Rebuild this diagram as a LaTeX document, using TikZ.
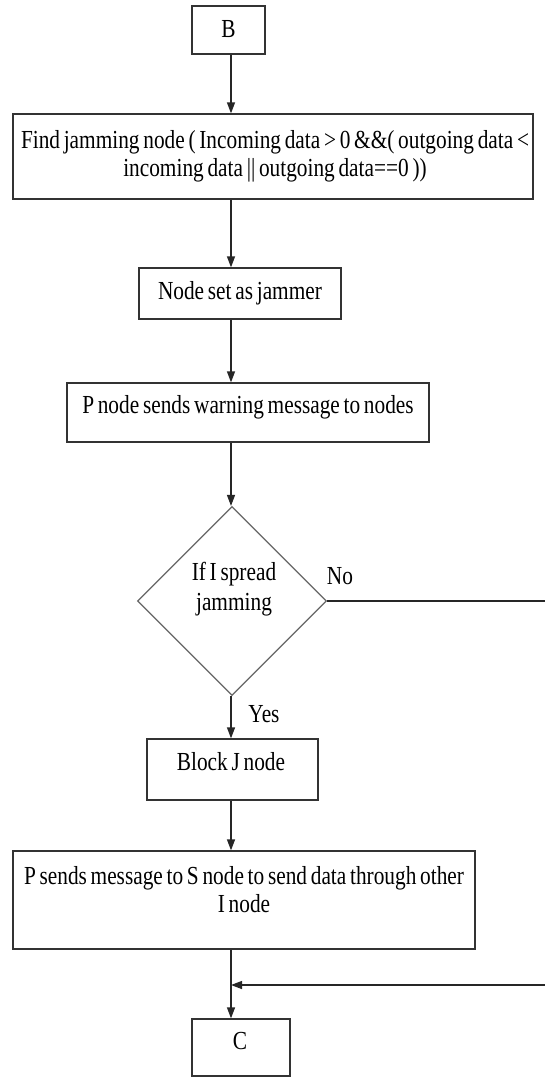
\documentclass[tikz,border=0pt]{standalone}
\usepackage{fontspec}
\setmainfont{Liberation Serif}[FakeStretch=0.82,WordSpace=0.7]
\usetikzlibrary{arrows.meta,shapes.geometric}

\begin{document}
\begin{tikzpicture}[x=1pt,y=-1pt,
  box/.style={draw=black!80, line width=1.3pt, inner sep=0pt},
  txt/.style={inner sep=0pt, anchor=base, align=center,
              font=\fontsize{26}{28}\selectfont, text=black},
  arr/.style={line width=1.3pt, draw=black!85,
              -{Triangle[length=11pt,width=8pt]}}]
\useasboundingbox (0,0) rectangle (544,1077);
\fill[white] (0,0) rectangle (544,1077);

% vertical trunk of the flow
\coordinate (tr) at (231,0);

% process boxes
\node[box, minimum width=73pt,  minimum height=48pt] (B)     at (228.5,30)    {};
\node[box, minimum width=520pt, minimum height=85pt] (find)  at (273,156.5)   {};
\node[box, minimum width=202pt, minimum height=51pt] (nset)  at (240,293.5)   {};
\node[box, minimum width=362pt, minimum height=59pt] (pwarn) at (248,412.5)   {};
\node[diamond, draw=black!60, line width=1.2pt, inner sep=0pt, aspect=1,
      minimum width=189pt, minimum height=189pt]     (dec)   at (232,601)     {};
\node[box, minimum width=171pt, minimum height=61pt] (blk)   at (232.5,769.5) {};
\node[box, minimum width=462pt, minimum height=98pt] (psend) at (244,900)     {};
\node[box, minimum width=98pt,  minimum height=57pt] (C)     at (241,1047.5)  {};

% texts (multi-line nodes are placed by the baseline of their last line)
\node[txt] (tB)     at (228.5,37) {B};
\node[txt] (tfind)  at (275,176)  {Find jamming node ( Incoming data > 0 \&\&( outgoing data <\\
                                   incoming data || outgoing data==0 ))};
\node[txt] (tnset)  at (240,299)  {Node set as jammer};
\node[txt] (tpwarn) at (248,413)  {P node sends warning message to nodes};
\node[txt, font=\fontsize{26}{30}\selectfont] (tdec) at (234,610) {If I spread\\ jamming};
\node[txt] (tblk)   at (231,770)  {Block J node};
\node[txt] (tpsend) at (244,912)  {P sends message to S node to send data through other\\ I node};
\node[txt] (tC)     at (240,1049) {C};
\node[txt] (tno)    at (340,584)  {No};
\node[txt] (tyes)   at (264,722)  {Yes};

% connectors
\draw[arr] (B.south -| tr)     -- (find.north -| tr);
\draw[arr] (find.south -| tr)  -- (nset.north -| tr);
\draw[arr] (nset.south -| tr)  -- (pwarn.north -| tr);
\draw[arr] (pwarn.south -| tr) -- (dec.north -| tr);
\draw[arr] (dec.south -| tr)   -- (blk.north -| tr);
\draw[arr] (blk.south -| tr)   -- (psend.north -| tr);
\draw[arr] (psend.south -| tr) -- (C.north -| tr);

% "No" branch rejoins above C, running along the right edge
\coordinate (r1) at (546,601);
\coordinate (r2) at (546,985);
\draw[arr] (dec.east) -- (r1) -- (r2) -- (r2 -| tr);
\end{tikzpicture}
\end{document}
